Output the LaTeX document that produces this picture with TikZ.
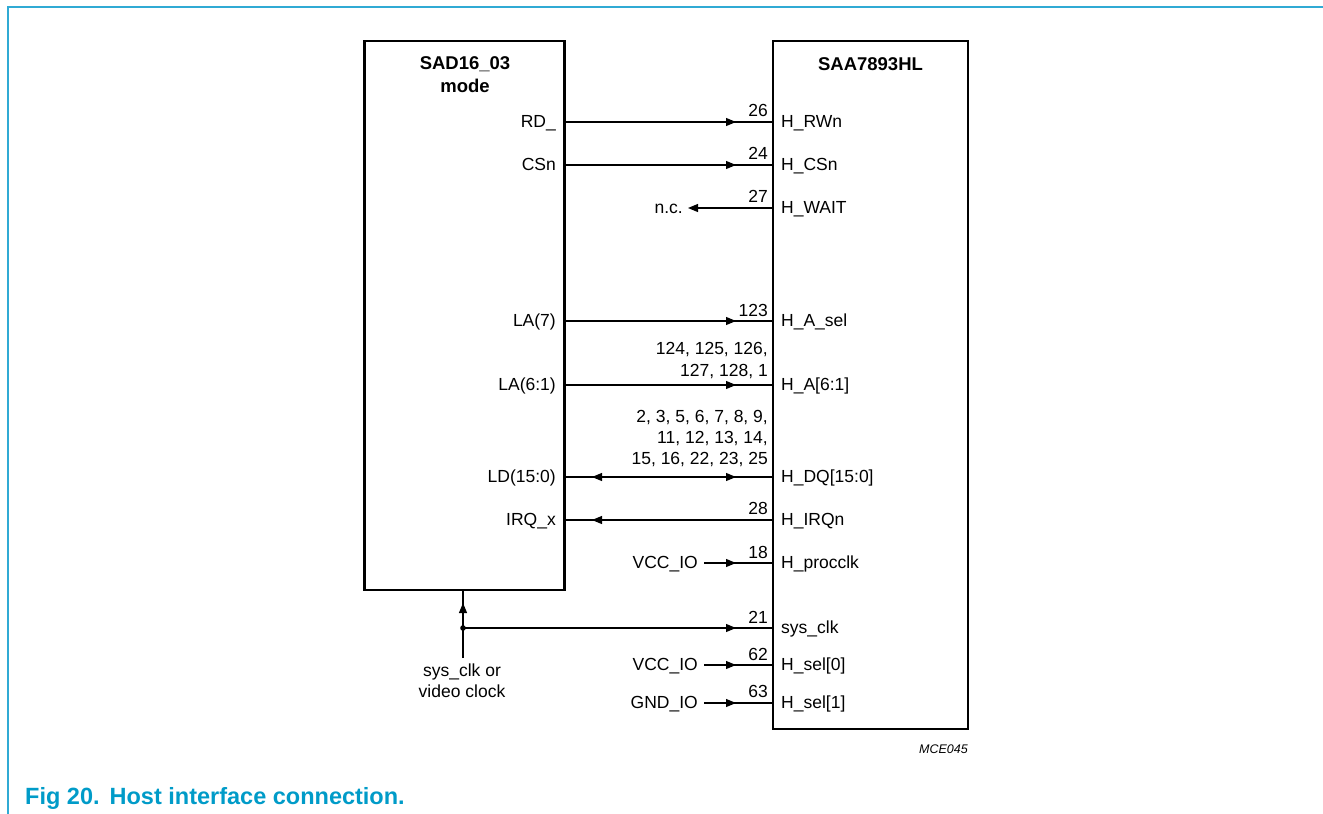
\documentclass[tikz,border=0pt]{standalone}
\usepackage{fontspec}
\setmainfont{Liberation Sans}
\usetikzlibrary{arrows.meta,decorations.markings}
\definecolor{framecol}{RGB}{48,170,212}
\definecolor{capcol}{RGB}{0,155,200}
\tikzset{
  ptr/.tip={Triangle[length=10pt,width=8pt]},
  frame/.style={draw=framecol, line width=1.6pt},
  chip/.style={draw, line width=2.2pt, inner sep=0pt},
  wire/.style={line width=1.1pt},
  fwd/.style={postaction={decorate},decoration={markings,mark=at position #1 with {\arrow{ptr}}}},
  bidir/.style={postaction={decorate},decoration={markings,
      mark=at position 28pt with {\arrowreversed{ptr}},
      mark=at position -37pt with {\arrow{ptr}}}},
  lbl/.style={font=\fontsize{17.5}{21}\selectfont, inner sep=0pt},
  title/.style={font=\bfseries\fontsize{18.5}{23}\selectfont, inner sep=0pt},
  rpin/.style={lbl, anchor=base west},
  lpin/.style={lbl, anchor=base east},
  num/.style={lbl, anchor=base east},
}
\begin{document}
\begin{tikzpicture}[x=1pt,y=-1pt]
\useasboundingbox (0,0) rectangle (1323,814);
\draw[frame] (8,814) -- (8,7) -- (1323,7);

% chips
\node[chip, minimum width=200pt, minimum height=549pt] (L) at (464.5,315.5) {};
\node[chip, minimum width=195pt, minimum height=688pt] (R) at (870.5,385) {};
\node[title, anchor=north, align=center] (Lt) at (465,56.5) {SAD16\_03\\mode};
\node[title, anchor=base] (Rt) at (870.5,70) {SAA7893HL};

% RD_ -> H_RWn
\coordinate (rdL) at (564,122); \coordinate (rdR) at (773,122);
\node[lpin] (rd) at (556,127.5) {RD\_};
\node[rpin] (hrwn) at (781,127.5) {H\_RWn};
\node[num] (n26) at (768,116) {26};
\draw[wire, fwd=-37pt] (rdL) -- (rdR);

% CSn -> H_CSn
\coordinate (csL) at (564,165); \coordinate (csR) at (773,165);
\node[lpin] (cs) at (556,170.5) {CSn};
\node[rpin] (hcsn) at (781,170.5) {H\_CSn};
\node[num] (n24) at (768,159) {24};
\draw[wire, fwd=-37pt] (csL) -- (csR);

% H_WAIT -> n.c.
\coordinate (waitR) at (773,208); \coordinate (ncend) at (688,208);
\node[lpin] (nc) at (683,213.5) {n.c.};
\node[rpin] (hwait) at (781,213.5) {H\_WAIT};
\node[num] (n27) at (768,202) {27};
\draw[wire, -{ptr}] (waitR) -- (ncend);

% LA(7) -> H_A_sel
\coordinate (a7L) at (564,321); \coordinate (a7R) at (773,321);
\node[lpin] (la7) at (556,326.5) {LA(7)};
\node[rpin] (hasel) at (781,326.5) {H\_A\_sel};
\node[num] (n123) at (768,316) {123};
\draw[wire, fwd=-37pt] (a7L) -- (a7R);

% LA(6:1) -> H_A[6:1]
\coordinate (a61L) at (564,385); \coordinate (a61R) at (773,385);
\node[lpin] (la61) at (556,390.5) {LA(6:1)};
\node[rpin] (ha61) at (781,390.5) {H\_A[6:1]};
\node[num] (n124a) at (768,354) {124, 125, 126,};
\node[num] (n124b) at (768,376) {127, 128, 1};
\draw[wire, fwd=-37pt] (a61L) -- (a61R);

% LD(15:0) <-> H_DQ[15:0]
\coordinate (dqL) at (564,477); \coordinate (dqR) at (773,477);
\node[lpin] (ld) at (556,482.5) {LD(15:0)};
\node[rpin] (hdq) at (781,482.5) {H\_DQ[15:0]};
\node[num] (ndqa) at (768,422) {2, 3, 5, 6, 7, 8, 9,};
\node[num] (ndqb) at (768,443) {11, 12, 13, 14,};
\node[num] (ndqc) at (768,464) {15, 16, 22, 23, 25};
\draw[wire, bidir] (dqL) -- (dqR);

% H_IRQn -> IRQ_x
\coordinate (irqL) at (564,520); \coordinate (irqR) at (773,520);
\node[lpin] (irq) at (556,525.5) {IRQ\_x};
\node[rpin] (hirq) at (781,525.5) {H\_IRQn};
\node[num] (n28) at (768,514) {28};
\draw[wire, fwd=-28pt] (irqR) -- (irqL);

% VCC_IO -> H_procclk
\coordinate (v1) at (704,563); \coordinate (procR) at (773,563);
\node[lpin] (vcc1) at (698,568.5) {VCC\_IO};
\node[rpin] (hproc) at (781,568.5) {H\_procclk};
\node[num] (n18) at (768,558) {18};
\draw[wire, fwd=-37pt] (v1) -- (procR);

% sys_clk
\coordinate (j) at (463,628); \coordinate (sysR) at (773,628);
\coordinate (boxbot) at (463,590); \coordinate (srctop) at (463,658);
\node[lbl, anchor=north, align=center] (src) at (462,664) {sys\_clk or\\video clock};
\node[rpin] (hsys) at (781,633.5) {sys\_clk};
\node[num] (n21) at (768,623) {21};
\draw[wire, fwd=-37pt] (j) -- (sysR);
\draw[wire, fwd=-13pt] (srctop) -- (j) -- (boxbot);
\fill (j) circle (2.8pt);

% VCC_IO -> H_sel[0]
\coordinate (v2) at (704,665); \coordinate (sel0R) at (773,665);
\node[lpin] (vcc2) at (698,670.5) {VCC\_IO};
\node[rpin] (hsel0) at (781,670.5) {H\_sel[0]};
\node[num] (n62) at (768,660) {62};
\draw[wire, fwd=-37pt] (v2) -- (sel0R);

% GND_IO -> H_sel[1]
\coordinate (g1) at (704,703); \coordinate (sel1R) at (773,703);
\node[lpin] (gnd) at (698,708.5) {GND\_IO};
\node[rpin] (hsel1) at (781,708.5) {H\_sel[1]};
\node[num] (n63) at (768,697.5) {63};
\draw[wire, fwd=-37pt] (g1) -- (sel1R);

% figure id and caption
\node[font=\itshape\fontsize{12.5}{15}\selectfont, inner sep=0pt, anchor=base east] (id) at (968,753) {MCE045};
\node[font=\bfseries\fontsize{23.5}{28}\selectfont, text=capcol, inner sep=0pt, anchor=base west] (cap) at (25,804) {Fig 20.\hspace{10pt}Host interface connection.};
\end{tikzpicture}
\end{document}
